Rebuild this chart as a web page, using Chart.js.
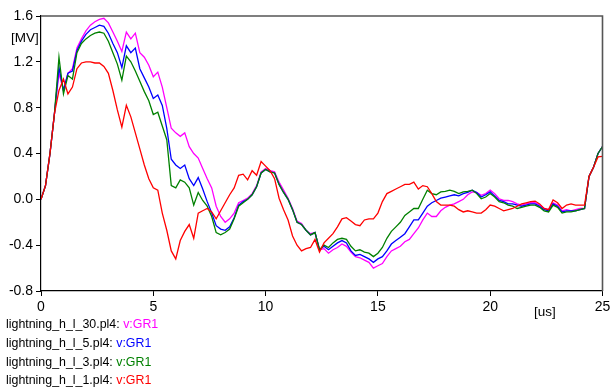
<!DOCTYPE html>
<html>
<head>
<meta charset="utf-8">
<script src="https://cdn.jsdelivr.net/npm/chart.js@4"></script>
<style>
  html, body { margin: 0; padding: 0; background: #fff; }
  #wrap { position: relative; width: 611px; height: 392px; font-family: Arial, "Liberation Sans", sans-serif; }
  #chart { position: absolute; left: 0; top: 0; }
  .unit { position: absolute; font-size: 13.5px; color: #000; line-height: 14px; }
  #legend { position: absolute; left: 6px; top: 315px; font-size: 12.4px; line-height: 18.8px; color: #000; }
</style>
</head>
<body>
<div id="wrap">
  <canvas id="chart" width="611" height="392"></canvas>
  <div class="unit" style="left:11px; top:31px;">[MV]</div>
  <div class="unit" style="left:534px; top:305px;">[us]</div>
  <div id="legend"></div>
</div>
<script>
// temps en us, pas de 0.2
const time = Array.from({ length: 126 }, (_, i) => +(i * 0.2).toFixed(1));

const files = ['lightning_h_l_30.pl4', 'lightning_h_l_5.pl4', 'lightning_h_l_3.pl4', 'lightning_h_l_1.pl4'];
const colors = ['#ff00ff', '#0000ff', '#008000', '#ff0000'];

// tension v:GR1 [MV]
const v30 = [
  0, 0.12, 0.40, 0.75, 1.10, 0.95, 1.10, 1.14, 1.32, 1.40,
  1.47, 1.52, 1.55, 1.57, 1.58, 1.54, 1.46, 1.38, 1.29, 1.46,
  1.40, 1.45, 1.28, 1.24, 1.17, 1.07, 1.11, 0.98, 0.80, 0.62,
  0.58, 0.55, 0.58, 0.46, 0.40, 0.36, 0.27, 0.18, 0.10, -0.06,
  -0.15, -0.20, -0.17, -0.12, -0.03, -0.01, 0.01, 0.05, 0.12, 0.24,
  0.27, 0.25, 0.24, 0.15, 0.08, 0.01, -0.08, -0.19, -0.21, -0.27,
  -0.30, -0.29, -0.44, -0.43, -0.47, -0.44, -0.42, -0.39, -0.41, -0.46,
  -0.50, -0.51, -0.53, -0.55, -0.60, -0.58, -0.56, -0.50, -0.45, -0.43,
  -0.41, -0.37, -0.35, -0.30, -0.25, -0.18, -0.12, -0.15, -0.15, -0.10,
  -0.07, -0.05, -0.04, -0.02, 0.00, 0.04, 0.065, 0.06, 0.035, 0.05,
  0.08, 0.05, 0.005, -0.01, -0.01, -0.02, -0.04, -0.05, -0.04, -0.03,
  -0.03, -0.05, -0.08, -0.09, -0.03, -0.05, -0.10, -0.09, -0.10, -0.09,
  -0.08, -0.08, 0.20, 0.28, 0.40, 0.46
];
const v5 = [
  0, 0.12, 0.40, 0.75, 1.15, 0.95, 1.10, 1.12, 1.30, 1.38,
  1.44, 1.48, 1.50, 1.52, 1.51, 1.45, 1.36, 1.28, 1.15, 1.34,
  1.28, 1.32, 1.14, 1.06, 0.98, 0.88, 0.91, 0.82, 0.62, 0.35,
  0.30, 0.27, 0.30, 0.18, 0.12, 0.19, 0.09, -0.02, -0.12, -0.23,
  -0.26, -0.27, -0.24, -0.16, -0.05, -0.02, 0.00, 0.04, 0.11, 0.23,
  0.26, 0.24, 0.23, 0.13, 0.06, 0.00, -0.09, -0.20, -0.22, -0.27,
  -0.31, -0.29, -0.44, -0.41, -0.44, -0.41, -0.38, -0.36, -0.38, -0.45,
  -0.49, -0.48, -0.50, -0.52, -0.55, -0.52, -0.50, -0.45, -0.39, -0.36,
  -0.33, -0.30, -0.24, -0.18, -0.18, -0.12, -0.06, -0.03, -0.01, 0.01,
  0.02, 0.03, 0.04, 0.03, 0.05, 0.06, 0.08, 0.06, 0.02, 0.04,
  0.065, 0.03, -0.01, -0.02, -0.04, -0.04, -0.05, -0.06, -0.05, -0.04,
  -0.04, -0.06, -0.09, -0.10, -0.04, -0.06, -0.11, -0.10, -0.10, -0.10,
  -0.09, -0.08, 0.20, 0.28, 0.40, 0.46
];
const v3 = [
  0, 0.12, 0.40, 0.75, 1.24, 0.92, 1.08, 1.05, 1.28, 1.36,
  1.40, 1.43, 1.45, 1.46, 1.45, 1.38, 1.28, 1.18, 1.04, 1.25,
  1.20, 1.12, 1.03, 0.94, 0.86, 0.74, 0.76, 0.64, 0.52, 0.12,
  0.10, 0.17, 0.15, 0.10, -0.05, 0.06, -0.01, -0.06, -0.15, -0.29,
  -0.31, -0.29, -0.26, -0.17, -0.06, -0.03, 0.00, 0.04, 0.11, 0.23,
  0.26, 0.24, 0.23, 0.13, 0.06, 0.00, -0.09, -0.20, -0.22, -0.27,
  -0.31, -0.29, -0.44, -0.40, -0.42, -0.38, -0.35, -0.34, -0.35, -0.41,
  -0.45, -0.44, -0.46, -0.47, -0.50, -0.47, -0.42, -0.34, -0.28, -0.24,
  -0.20, -0.14, -0.11, -0.08, -0.08, 0.00, 0.08, 0.05, 0.04, 0.065,
  0.07, 0.08, 0.07, 0.05, 0.065, 0.07, 0.08, 0.05, 0.005, 0.02,
  0.05, 0.02, -0.02, -0.03, -0.05, -0.06, -0.08, -0.07, -0.06, -0.05,
  -0.05, -0.07, -0.10, -0.11, -0.05, -0.07, -0.12, -0.11, -0.11, -0.10,
  -0.09, -0.08, 0.20, 0.28, 0.40, 0.46
];
const v1 = [
  0, 0.12, 0.40, 0.75, 0.95, 1.05, 0.92, 0.98, 1.14, 1.19,
  1.20, 1.20, 1.19, 1.19, 1.16, 1.10, 0.95, 0.78, 0.63, 0.82,
  0.72, 0.58, 0.44, 0.30, 0.18, 0.10, 0.08, -0.12, -0.27, -0.45,
  -0.52, -0.36, -0.28, -0.22, -0.34, -0.12, -0.10, -0.08, -0.11, -0.17,
  -0.10, -0.03, 0.04, 0.10, 0.21, 0.22, 0.17, 0.25, 0.21, 0.33,
  0.29, 0.25, 0.18, 0.01, -0.09, -0.18, -0.32, -0.40, -0.45, -0.43,
  -0.42, -0.35, -0.46, -0.38, -0.34, -0.30, -0.24, -0.17, -0.16, -0.19,
  -0.22, -0.23, -0.18, -0.17, -0.17, -0.12, -0.02, 0.05, 0.07, 0.09,
  0.11, 0.13, 0.13, 0.15, 0.09, 0.12, 0.11, 0.05, -0.02, -0.05,
  -0.05, -0.05, -0.06, -0.09, -0.11, -0.10, -0.11, -0.12, -0.12, -0.09,
  -0.05, -0.06, -0.08, -0.10, -0.09, -0.08, -0.06, -0.04, -0.03, -0.02,
  -0.015, -0.04, -0.08, -0.09, -0.005, -0.03, -0.08, -0.05, -0.04, -0.05,
  -0.05, -0.05, 0.20, 0.28, 0.37, 0.375
];

const series = [v30, v5, v3, v1];

// légende en texte (nom du fichier en noir, variable en couleur)
const legend = document.getElementById('legend');
files.forEach((f, i) => {
  const row = document.createElement('div');
  row.innerHTML = f + ': <span style="color:' + colors[i] + '">v:GR1</span>';
  legend.appendChild(row);
});

// cadre gris en haut et à droite
const frame = {
  id: 'frame',
  afterDraw(chart) {
    const { ctx, chartArea: a } = chart;
    ctx.save();
    ctx.strokeStyle = '#555';
    ctx.lineWidth = 1.6;
    ctx.beginPath();
    ctx.moveTo(a.left, a.top);
    ctx.lineTo(a.right, a.top);
    ctx.lineTo(a.right, a.bottom);
    ctx.stroke();
    ctx.restore();
  }
};

// le premier dataset est dessiné au-dessus : rouge d'abord
const order = [3, 2, 1, 0];

new Chart(document.getElementById('chart'), {
  type: 'line',
  data: {
    datasets: order.map(i => ({
      label: files[i],
      data: time.map((t, k) => ({ x: t, y: series[i][k] })),
      borderColor: colors[i],
      borderWidth: 1.3,
      pointRadius: 0,
      tension: 0,
      fill: false
    }))
  },
  options: {
    responsive: false,
    animation: false,
    events: [],
    layout: { padding: { top: 16, right: 0, left: 0, bottom: 0 } },
    plugins: { legend: { display: false }, tooltip: { enabled: false } },
    scales: {
      x: {
        type: 'linear',
        min: 0,
        max: 25,
        afterFit(scale) { scale.height = 101; scale.paddingRight = 8.5; scale.paddingLeft = 0; },
        ticks: { stepSize: 5, color: '#000', padding: 3, maxRotation: 0, font: { family: 'Arial, "Liberation Sans"', size: 14 } },
        grid: { drawOnChartArea: false, tickLength: 5, color: '#000' },
        border: { color: '#000', width: 1.2 }
      },
      y: {
        min: -0.8,
        max: 1.6,
        afterFit(scale) { scale.width = 41; },
        ticks: { stepSize: 0.4, color: '#000', padding: 3, callback: v => v.toFixed(1), font: { family: 'Arial, "Liberation Sans"', size: 14 } },
        grid: { drawOnChartArea: false, tickLength: 5, color: '#000' },
        border: { color: '#000', width: 1.2 }
      }
    }
  },
  plugins: [frame]
});
</script>
</body>
</html>
